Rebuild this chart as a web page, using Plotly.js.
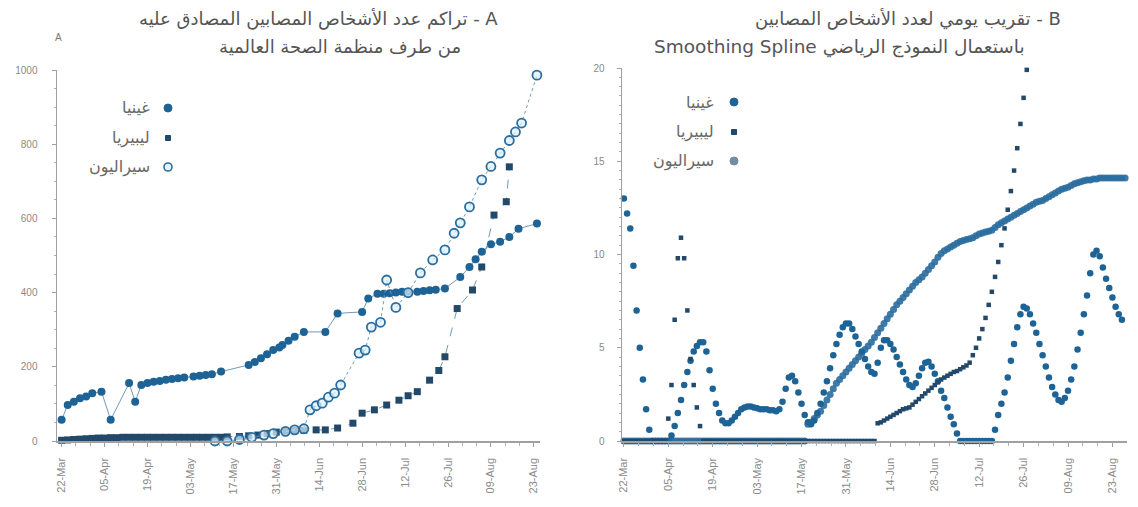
<!DOCTYPE html>
<html><head><meta charset="utf-8">
<script src="https://cdn.plot.ly/plotly-3.0.1.min.js"></script>
<style>html,body{margin:0;padding:0;background:#fff}#c{width:1138px;height:507px}</style>
</head><body><div id="c"></div>
<script>
// ---------- DATA ----------
const startDate = '2014-03-22';
const seriesNames = ['غينيا', 'ليبيريا', 'سيراليون'];

// Panel A: cumulative confirmed cases (day offsets from start date)
const guineaDaysA = [0,2,4,6,8,10,13,16,22,24,26,28,30,32,34,36,38,40,43,45,47,49,52,61,63,65,67,69,71,72,74,76,79,86,90,98,100,103,105,107,109,111,113,116,118,120,122,125,130,133,135,137,140,143,146,149,155];
const guineaValsA = [57,97,106,115,120,129,133,57,156,106,151,156,160,162,165,167,169,171,174,176,178,180,187,205,213,223,234,245,252,259,270,281,294,294,344,348,384,397,397,398,400,402,402,402,404,406,408,411,442,469,490,510,530,537,550,572,586];

const liberiaDaysA = [0,2,4,6,8,10,12,14,16,18,20,22,24,26,28,30,32,34,36,38,40,42,44,46,48,50,52,54,58,61,64,67,70,73,76,79,83,86,90,95,98,102,106,110,113,116,120,123,125,129,134,137,141,145,146];
const liberiaValsA = [2,3,4,5,6,7,8,8,9,9,10,10,10,10,10,10,10,10,10,10,10,10,10,10,10,10,10,11,12,14,16,20,24,27,28,29,30,30,35,48,75,84,97,110,122,133,164,190,227,357,407,469,609,645,739];

const sierraDaysA = [50,54,58,62,66,69,73,76,79,81,83,85,87,89,91,97,99,101,104,106,109,113,117,121,125,128,130,133,137,140,143,146,148,150,155];
const sierraValsA = [0,0,4,10,16,20,26,30,33,84,95,102,118,129,151,237,245,307,320,434,360,400,453,488,515,560,588,631,704,740,776,810,833,857,986];

// Panel B: daily smoothed estimate (one value per day from start date)
const guineaDailyB = [13.0,12.2,11.4,9.4,7.0,5.0,3.3,1.7,0.6,0,
 0,0,0,0,0,0.3,0.8,1.5,2.2,3.0,
 3.7,4.3,4.8,5.1,5.3,5.3,4.8,3.8,2.8,2.0,
 1.5,1.1,0.95,0.95,1.1,1.3,1.5,1.7,1.8,1.85,
 1.85,1.8,1.75,1.7,1.7,1.7,1.65,1.65,1.6,1.7,
 2.1,2.8,3.4,3.5,3.2,2.6,2.0,1.4,1.0,0.9,
 1.1,1.5,2.0,2.6,3.2,3.9,4.6,5.2,5.7,6.1,
 6.3,6.3,6.0,5.6,5.2,4.8,4.4,4.0,3.7,3.6,
 4.2,5.0,5.4,5.4,5.2,4.9,4.5,4.1,3.7,3.3,
 3.0,2.9,3.1,3.5,3.9,4.2,4.25,4.0,3.6,3.2,
 2.7,2.3,1.8,1.3,0.9,0.4,0,0,0,0,
 0,0,0,0,0,0,0,0.6,1.4,2.0,
 2.6,3.4,4.3,5.2,6.1,6.8,7.2,7.1,6.8,6.3,
 5.8,5.2,4.6,4.0,3.4,2.9,2.5,2.2,2.1,2.3,
 2.7,3.3,4.0,4.9,5.8,6.8,7.8,9.0,10.0,10.2,
 9.9,9.3,8.7,8.2,7.7,7.2,6.8,6.5];

const liberiaDailyB = [0,0,0,0,0,0,0,0,0,0,
 0,0,0,0,1.2,3.0,6.5,9.8,10.9,9.8,
 7.0,4.4,3.0,1.8,0.8,0,0,0,0,0,
 0,0,0,0,0,0,0,0,0,0,
 0,0,0,0,0,0,0,0,0,0,
 0,0,0,0,0,0,0,0,0,0,
 0,0,0,0,0,0,0,0,0,0,
 0,0,0,0,0,0,0,0,0,0,
 0.95,1.0,1.1,1.2,1.3,1.4,1.5,1.6,1.7,1.75,
 1.8,1.95,2.1,2.25,2.4,2.55,2.7,2.85,3.0,3.15,
 3.3,3.4,3.5,3.6,3.7,3.75,3.85,3.95,4.05,4.2,
 4.6,5.0,5.5,6.0,6.6,7.3,8.0,8.8,9.6,10.5,
 11.4,12.4,13.4,14.5,15.7,17.0,18.4,19.9];

const sierraDailyB = [0,0,0,0,0,0,0,0,0,0,
 0,0,0,0,0,0,0,0,0,0,
 0,0,0,0,0,0,0,0,0,0,
 0,0,0,0,0,0,0,0,0,0,
 0,0,0,0,0,0,0,0,0,0,
 0,0,0,0,0,0,0,0,
 0.9,1.0,1.2,1.4,1.6,1.9,2.2,2.5,2.8,3.1,
 3.3,3.5,3.7,3.9,4.1,4.3,4.5,4.7,4.9,5.1,
 5.3,5.55,5.8,6.05,6.3,6.55,6.8,7.05,7.3,7.5,
 7.7,7.9,8.1,8.3,8.5,8.65,8.8,9.0,9.2,9.4,
 9.6,9.85,10.05,10.2,10.3,10.4,10.5,10.6,10.7,10.75,
 10.8,10.85,10.9,11.0,11.1,11.15,11.2,11.25,11.3,11.45,
 11.6,11.7,11.8,11.9,12.0,12.1,12.2,12.3,12.4,12.5,
 12.6,12.7,12.8,12.85,12.9,13.0,13.1,13.2,13.3,13.4,
 13.5,13.55,13.6,13.7,13.8,13.85,13.9,13.95,14.0,14.0,
 14.05,14.05,14.1,14.1,14.1,14.1,14.1,14.1,14.1,14.1,
 14.1];

const titleA1 = 'تراكم عدد الأشخاص المصابين المصادق عليه - A';
const titleA2 = 'من طرف منظمة الصحة العالمية';
const titleB1 = 'تقريب يومي لعدد الأشخاص المصابين - B';
const titleB2 = 'Smoothing Spline باستعمال النموذج الرياضي';

// ---------- HELPERS ----------
const DAY = 86400000;
const t0 = Date.parse(startDate + 'T00:00:00Z');
function toDate(d){ return new Date(t0 + d*DAY).toISOString().slice(0,19).replace('T',' '); }
function daily(arr){ return arr.map((_,i)=>toDate(i)); }

const W = 1138, H = 507;
const px = x => x / W, py = y => 1 - y / H;

const cG = '#1e6396', cL = '#22496a', cS = '#2a6d9e', lineC = '#6f9bb8';

const traces = [
  {x: liberiaDaysA.map(toDate), y: liberiaValsA, xaxis:'x', yaxis:'y', mode:'lines+markers', name:seriesNames[1], cliponaxis:false,
   line:{color:lineC, width:1, dash:'dash'}, marker:{color:cL, size:7, symbol:'square'}},
  {x: guineaDaysA.map(toDate), y: guineaValsA, xaxis:'x', yaxis:'y', mode:'lines+markers', name:seriesNames[0], cliponaxis:false,
   line:{color:lineC, width:1}, marker:{color:cG, size:8, symbol:'circle'}},
  {x: sierraDaysA.map(toDate), y: sierraValsA, xaxis:'x', yaxis:'y', mode:'lines+markers', name:seriesNames[2], cliponaxis:false,
   line:{color:lineC, width:1, dash:'dot'}, marker:{color:'rgba(220,240,250,0.7)', size:9, symbol:'circle', line:{color:cS, width:1.8}}},

  {x: daily(sierraDailyB), y: sierraDailyB, xaxis:'x2', yaxis:'y2', mode:'markers', name:seriesNames[2], cliponaxis:false,
   marker:{color:cS, size:7, symbol:'circle', opacity:0.9}},
  {x: daily(guineaDailyB), y: guineaDailyB, xaxis:'x2', yaxis:'y2', mode:'markers', name:seriesNames[0], cliponaxis:false,
   marker:{color:cG, size:6.5, symbol:'circle'}},
  {x: daily(liberiaDailyB), y: liberiaDailyB, xaxis:'x2', yaxis:'y2', mode:'markers', name:seriesNames[1], cliponaxis:false,
   marker:{color:cL, size:4.5, symbol:'square'}}
];

const axisCommon = {
  showline:true, linecolor:'#a0a0a0', linewidth:1.5, ticks:'outside', ticklen:4, tickcolor:'#a0a0a0',
  showgrid:false, zeroline:false, tickfont:{family:'Liberation Sans, Arial, sans-serif', size:10, color:'#8a8a8a'}
};
const xCommon = Object.assign({}, axisCommon, {
  type:'date', tick0:startDate, dtick:14*DAY, tickformat:'%d-%b', tickangle:-90, ticklabelstandoff:7,
  tickfont:{family:'Liberation Sans, Arial, sans-serif', size:11, color:'#8a8a8a'},
  minor:{dtick:14*DAY/3, ticks:'outside', ticklen:3, tickcolor:'#b0b0b0'}
});

const layout = {
  width:W, height:H, margin:{l:0,r:0,t:0,b:0}, paper_bgcolor:'#fff', plot_bgcolor:'#fff', showlegend:false,
  font:{family:'Liberation Sans, DejaVu Sans, sans-serif', color:'#555'},
  xaxis: Object.assign({}, xCommon, {domain:[px(57), px(540)], anchor:'y', range:[toDate(-1.5), toDate(156)]}),
  yaxis: Object.assign({}, axisCommon, {domain:[py(441), py(70)], anchor:'x', range:[0,1000], dtick:200, ticklabelstandoff:12,
          minor:{dtick:50, ticks:'outside', ticklen:2, tickcolor:'#b0b0b0'}}),
  xaxis2: Object.assign({}, xCommon, {domain:[px(622), px(1127)], anchor:'y2', range:[toDate(-0.6), toDate(158.6)]}),
  yaxis2: Object.assign({}, axisCommon, {domain:[py(441), py(68)], anchor:'x2', range:[0,20], dtick:5, ticklabelstandoff:10,
          minor:{dtick:0.5, ticks:'outside', ticklen:2, tickcolor:'#b0b0b0'}}),
  annotations: [],
  shapes: []
};

const titleFont = {family:'DejaVu Sans, sans-serif', size:18, color:'#555'};
const titleFontMix = {family:'DejaVu Sans, sans-serif', size:18.5, color:'#555'};
function ann(text, x, y, anchor, font){
  layout.annotations.push({xref:'paper', yref:'paper', x:px(x), y:py(y), xanchor:anchor, yanchor:'middle', text:text, showarrow:false, font:font});
}
ann(titleA1, 318, 19, 'center', titleFont);
ann(titleA2, 340, 47, 'center', titleFont);
ann(titleB1, 908, 19, 'center', titleFont);
ann(titleB2, 839, 47, 'center', titleFontMix);
ann('A', 58, 38, 'center', {family:'Liberation Sans, sans-serif', size:10, color:'#777'});

// legends (RTL: label left, symbol right)
const legFont = {family:'DejaVu Sans, sans-serif', size:16, color:'#666'};
function legend(xText, xSym, ys){
  seriesNames.forEach((n,i)=>{ ann(n, xText, ys[i], 'right', legFont); });
  layout.shapes.push({type:'circle', xref:'paper', yref:'paper', x0:px(xSym-4), x1:px(xSym+4), y0:py(ys[0]+4), y1:py(ys[0]-4), fillcolor:cG, line:{color:cG, width:1}});
  layout.shapes.push({type:'rect', xref:'paper', yref:'paper', x0:px(xSym-2.5), x1:px(xSym+2.5), y0:py(ys[1]+2.5), y1:py(ys[1]-2.5), fillcolor:cL, line:{color:cL, width:1}});
}
legend(152, 168, [108, 138, 167]);
layout.shapes.push({type:'circle', xref:'paper', yref:'paper', x0:px(168-4), x1:px(168+4), y0:py(167+4), y1:py(167-4), fillcolor:'rgba(220,240,250,0.7)', line:{color:cS, width:1.6}});
legend(716, 734, [102, 132, 161]);
layout.shapes.push({type:'circle', xref:'paper', yref:'paper', x0:px(734-4), x1:px(734+4), y0:py(161+4), y1:py(161-4), fillcolor:'#6f8ea5', line:{color:'#6f8ea5', width:1}});

Plotly.newPlot('c', traces, layout, {displayModeBar:false, staticPlot:true});
</script>
</body></html>
